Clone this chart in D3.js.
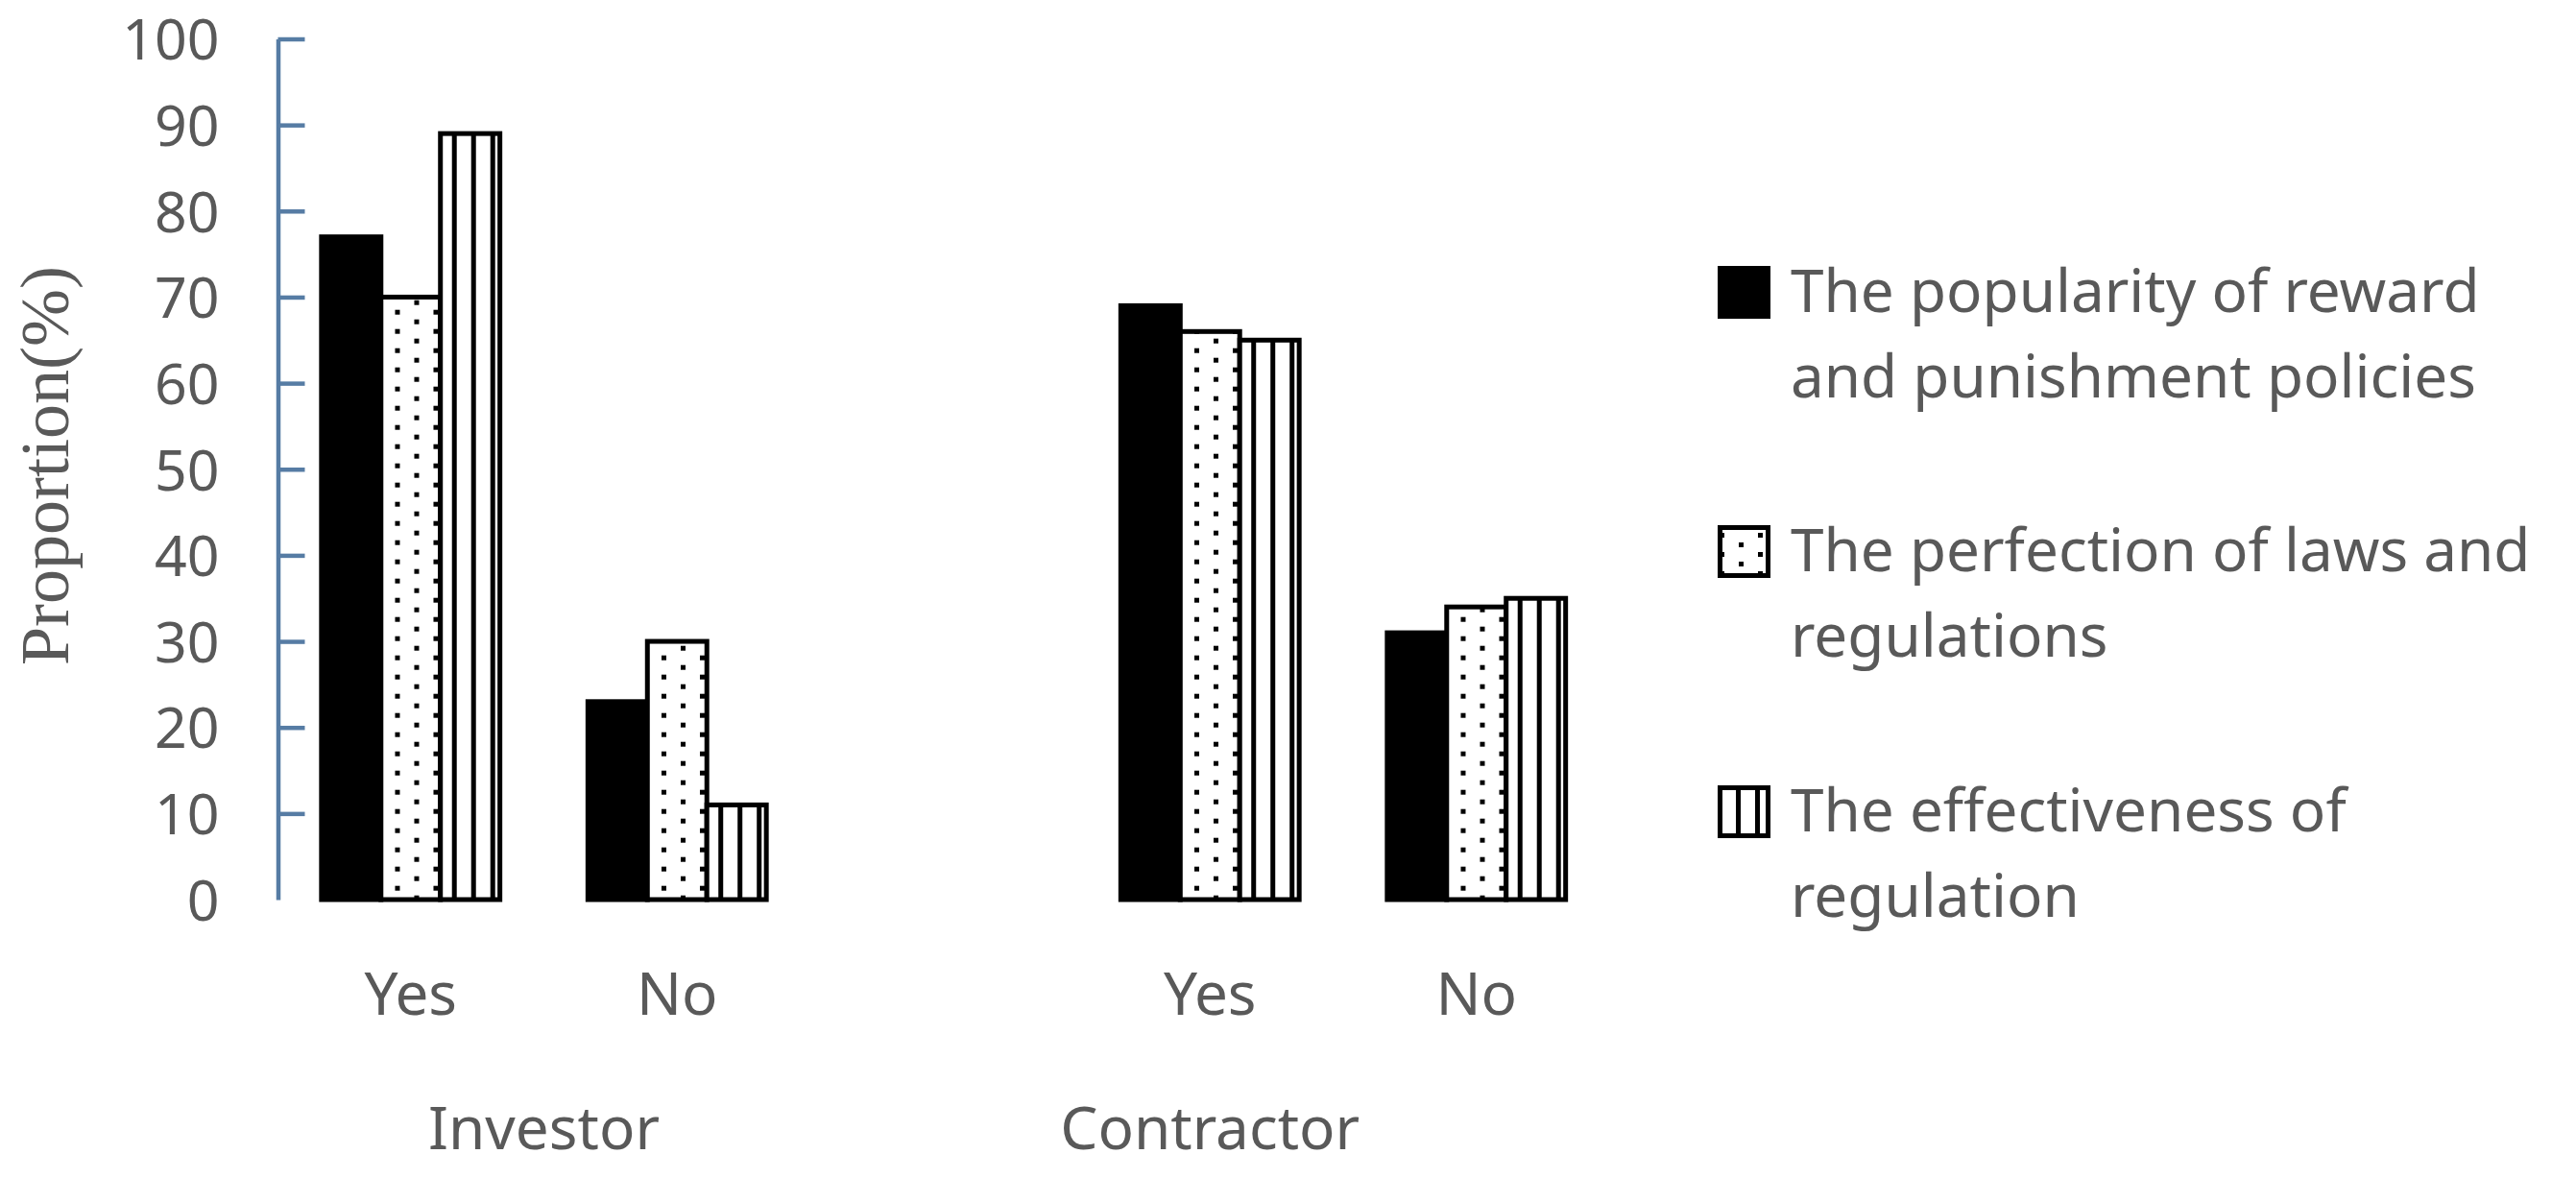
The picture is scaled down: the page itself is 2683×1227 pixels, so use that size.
<!DOCTYPE html>
<html>
<head>
<meta charset="utf-8">
<script src="https://cdn.jsdelivr.net/npm/d3@7"></script>
<style>
  html, body { margin: 0; padding: 0; background: #fff; }
  svg { display: block; }
</style>
</head>
<body>
<svg id="chart"></svg>
<script>
// categories along the x axis (Contractor has an empty leading slot, as in the original)
const categoryKeys = ["inv-yes", "inv-no", "con-gap", "con-yes", "con-no"];
const categoryLabels = ["Yes", "No", "", "Yes", "No"];
const categoryGroups = ["Investor", "Investor", "Contractor", "Contractor", "Contractor"];
const groupNames = ["Investor", "Contractor"];

// series values (%)
const popularity = [77, 23, null, 69, 31];
const perfection = [70, 30, null, 66, 34];
const effectiveness = [89, 11, null, 65, 35];

const seriesKeys = ["popularity", "perfection", "effectiveness"];
const seriesLabels = [
    ["The popularity of reward", "and punishment policies"],
    ["The perfection of laws and", "regulations"],
    ["The effectiveness of", "regulation"],
];

const yTicks = [0, 10, 20, 30, 40, 50, 60, 70, 80, 90, 100];
const yTitle = "Proportion(%)";

const width = 2683;
const height = 1227;
const textColor = "#595959";
const axisColor = "#567ca4";
const barStroke = 5;

const svg = d3.select("#chart").attr("width", width).attr("height", height);
svg.append("rect").attr("width", width).attr("height", height).attr("fill", "#fff");

const defs = svg.append("defs");

// dot pattern, px/py give the phase of the first dot column
function dotPattern(id, px, py) {
    const p = defs.append("pattern")
        .attr("id", id)
        .attr("patternUnits", "userSpaceOnUse")
        .attr("x", px)
        .attr("y", 0)
        .attr("width", 40)
        .attr("height", 20);
    p.append("rect").attr("width", 40).attr("height", 20).attr("fill", "#fff");
    p.append("rect").attr("x", 0).attr("y", py).attr("width", 5).attr("height", 5).attr("fill", "#000");
    p.append("rect").attr("x", 20).attr("y", (py + 10) % 20).attr("width", 5).attr("height", 5).attr("fill", "#000");
}
dotPattern("dots-bar", 14.7, 2.7);
dotPattern("dots-legend", 19.5, 5);

const x0 = d3.scaleBand()
    .domain(categoryKeys)
    .range([289, 289 + 5 * 277.5])
    .padding(0);

const x1 = d3.scaleBand()
    .domain(seriesKeys)
    .range([0, x0.bandwidth()])
    .paddingInner(0)
    .paddingOuter(0.74);

const y = d3.scaleLinear().domain([0, 100]).range([937, 40.5]);

// y axis, ticks pointing into the plot
const yAxis = svg.append("g")
    .attr("transform", "translate(289.5,0)")
    .call(d3.axisLeft(y).tickValues(yTicks).tickSizeInner(-28).tickSizeOuter(0).tickPadding(61));

yAxis.select(".domain").attr("stroke", axisColor).attr("stroke-width", 4.5);
yAxis.selectAll(".tick line")
    .attr("stroke", axisColor)
    .attr("stroke-width", 4.5)
    .attr("display", (d) => (d === 0 ? "none" : null));
yAxis.selectAll(".tick text")
    .attr("fill", textColor)
    .attr("font-family", "'Noto Sans', sans-serif")
    .attr("font-size", 59)
    .attr("dy", "0.36em");

svg.append("text")
    .attr("transform", "translate(71,485) rotate(-90)")
    .attr("text-anchor", "middle")
    .attr("fill", textColor)
    .attr("font-family", "'Liberation Serif', serif")
    .attr("font-size", 72)
    .text(yTitle);

// bars
const valuesBySeries = { popularity, perfection, effectiveness };
const barData = [];
categoryKeys.forEach((c, i) => {
    seriesKeys.forEach((s) => {
        const v = valuesBySeries[s][i];
        if (v != null) barData.push({ category: c, series: s, value: v });
    });
});

const bars = svg.append("g")
    .selectAll("g")
    .data(barData)
    .join("g")
    .attr("transform", (d) => `translate(${x0(d.category) + x1(d.series)},0)`);

bars.append("rect")
    .attr("x", 0)
    .attr("y", (d) => y(d.value))
    .attr("width", x1.bandwidth())
    .attr("height", (d) => y(0) - y(d.value))
    .attr("fill", (d) =>
        d.series === "popularity" ? "#000" : d.series === "perfection" ? "url(#dots-bar)" : "#fff")
    .attr("stroke", "#000")
    .attr("stroke-width", barStroke);

const stripeOffsets = [12, 32, 52];
bars.filter((d) => d.series === "effectiveness")
    .selectAll("rect.stripe")
    .data((d) => stripeOffsets.map((o) => ({ o, value: d.value })))
    .join("rect")
    .attr("class", "stripe")
    .attr("x", (d) => d.o)
    .attr("y", (d) => y(d.value))
    .attr("width", 5)
    .attr("height", (d) => y(0) - y(d.value))
    .attr("fill", "#000");

// category labels
svg.append("g")
    .selectAll("text")
    .data(categoryKeys)
    .join("text")
    .attr("x", (d) => x0(d) + x0.bandwidth() / 2)
    .attr("y", 1057)
    .attr("text-anchor", "middle")
    .attr("fill", textColor)
    .attr("font-family", "'Noto Sans', sans-serif")
    .attr("font-size", 62)
    .text((d, i) => categoryLabels[i]);

// group labels, centred under their categories
svg.append("g")
    .selectAll("text")
    .data(groupNames)
    .join("text")
    .attr("x", (g) => {
        const xs = categoryKeys.filter((c, i) => categoryGroups[i] === g).map((c) => x0(c) + x0.bandwidth() / 2);
        return (d3.min(xs) + d3.max(xs)) / 2;
    })
    .attr("y", 1197)
    .attr("text-anchor", "middle")
    .attr("fill", textColor)
    .attr("font-family", "'Noto Sans', sans-serif")
    .attr("font-size", 62)
    .text((g) => g);

// legend
const legend = svg.append("g").attr("transform", "translate(1791.5,0)");
const legendTops = [279.5, 549.5, 820.5];
const legendItems = legend.selectAll("g")
    .data(seriesKeys)
    .join("g");

legendItems.append("rect")
    .attr("x", 0)
    .attr("y", (d, i) => legendTops[i])
    .attr("width", 50)
    .attr("height", 50)
    .attr("fill", (d) =>
        d === "popularity" ? "#000" : d === "perfection" ? "url(#dots-legend)" : "#fff")
    .attr("stroke", "#000")
    .attr("stroke-width", barStroke);

legendItems.filter((d) => d === "effectiveness")
    .selectAll("rect.stripe")
    .data([16.5, 36.5])
    .join("rect")
    .attr("class", "stripe")
    .attr("x", (o) => o)
    .attr("y", legendTops[2])
    .attr("width", 5)
    .attr("height", 50)
    .attr("fill", "#000");

legendItems.append("text")
    .attr("fill", textColor)
    .attr("font-family", "'Noto Sans', sans-serif")
    .attr("font-size", 62)
    .selectAll("tspan")
    .data((d, i) => seriesLabels[i].map((line, j) => ({ line, j, i })))
    .join("tspan")
    .attr("x", 73.5)
    .attr("y", (t) => legendTops[t.i] + 45 + t.j * 89)
    .text((t) => t.line);
</script>
</body>
</html>
